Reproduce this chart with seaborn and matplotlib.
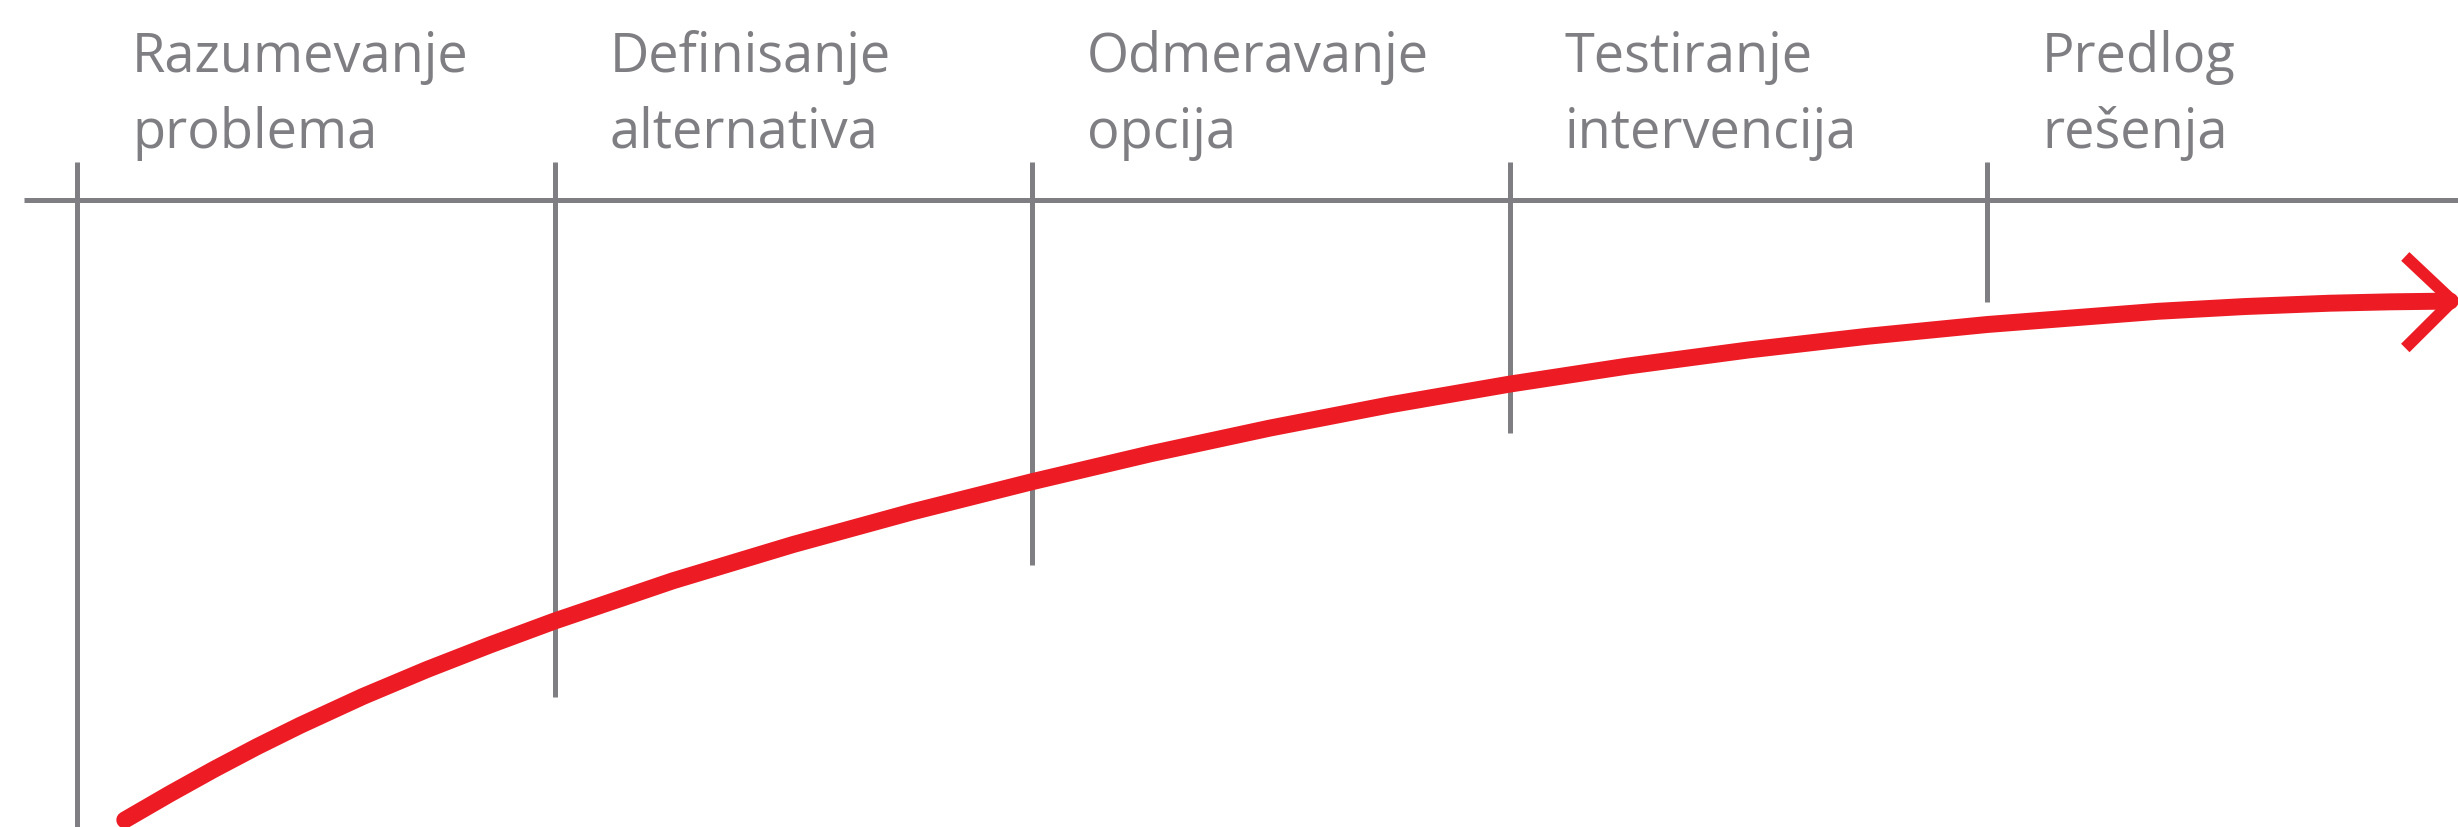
import matplotlib
matplotlib.use("Agg")
import matplotlib.pyplot as plt
import seaborn as sns
import pandas as pd

# ---- data ----
stage_labels = ["Razumevanje\nproblema", "Definisanje\nalternativa", "Odmeravanje\nopcija",
                "Testiranje\nintervencija", "Predlog\nrešenja"]
stage_pos = [0, 1, 2, 3, 4]
stage_tick_bottom = [-5, 20.7, 41.8, 62.8, 83.7]   # progress level where each stage marker ends
stage_tick_top = 106.1
axis_level = 100

curve_x = [0.100, 0.195, 0.287, 0.377, 0.467, 0.599, 0.733, 0.865, 0.999,
           1.248, 1.500, 1.749, 2.000, 2.249, 2.498, 2.750, 2.999, 3.248,
           3.500, 3.749, 4.000, 4.358, 4.540, 4.718, 4.844, 4.970]
curve_y = [1.12, 5.31, 9.20, 12.81, 16.20, 20.83, 25.12, 29.04, 32.82,
           39.27, 45.06, 50.26, 55.07, 59.54, 63.62, 67.34, 70.62, 73.52,
           76.08, 78.26, 80.14, 82.25, 83.01, 83.54, 83.76, 83.88]

arrow_x = [4.876, 4.975, 4.876]
arrow_y = [91.0, 83.9, 76.4]

label_line1_y = 120.4
label_line2_y = 108.3
label_offset = 0.115

GRAY = "#7f7f83"
RED = "#ED1C24"

sns.set_theme(style="white")
plt.rcParams["font.family"] = ["Open Sans", "DejaVu Sans"]

fig = plt.figure(figsize=(24.58, 8.27), dpi=100)
ax = fig.add_axes([0, 0, 1, 1])

# horizontal timeline
ax.plot([-0.111, 5.2], [axis_level, axis_level], color=GRAY, lw=3.6,
        solid_capstyle="butt", zorder=1)

# stage markers
for x, b in zip(stage_pos, stage_tick_bottom):
    ax.plot([x, x], [b, stage_tick_top], color=GRAY, lw=3.6,
            solid_capstyle="butt", zorder=1)

# labels
for x, lab in zip(stage_pos, stage_labels):
    l1, l2 = lab.split("\n")
    ax.text(x + label_offset, label_line1_y, l1, color=GRAY, fontsize=39,
            va="baseline", ha="left")
    ax.text(x + label_offset, label_line2_y, l2, color=GRAY, fontsize=39,
            va="baseline", ha="left")

# red progress curve
df = pd.DataFrame({"x": curve_x, "y": curve_y})
sns.lineplot(data=df, x="x", y="y", ax=ax, color=RED, linewidth=12.2, sort=False,
             estimator=None, zorder=3)
ax.lines[-1].set_solid_capstyle("round")
ax.lines[-1].set_solid_joinstyle("round")

ax.plot(arrow_x, arrow_y, color=RED, lw=8.6, solid_capstyle="butt",
        solid_joinstyle="miter", zorder=3)

ax.set_xlim(-0.1613, 4.9864)
ax.set_ylim(0, 131.9)
ax.axis("off")

fig.savefig("out.png", dpi=100, facecolor="white")
